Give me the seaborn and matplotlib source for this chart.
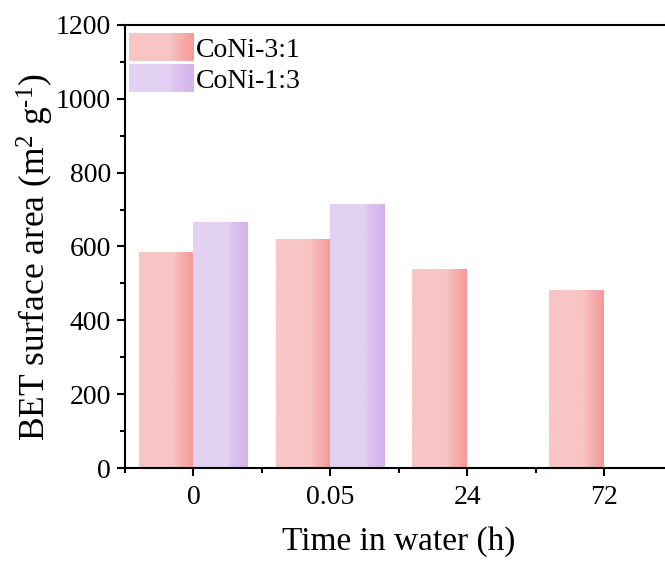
import numpy as np
import pandas as pd
import matplotlib
matplotlib.use("Agg")
import matplotlib.pyplot as plt
import seaborn as sns
from matplotlib.colors import LinearSegmentedColormap, to_rgb
from matplotlib.legend_handler import HandlerBase
from matplotlib.patches import Rectangle
from matplotlib.ticker import MultipleLocator, FixedLocator

# ---- data ----
times = ["0", "0.05", "24", "72"]
series_names = ["CoNi-3:1", "CoNi-1:3"]
coni_31 = [585, 620, 539, 480]
coni_13 = [664, 715, np.nan, np.nan]
yticks = [0, 200, 400, 600, 800, 1000, 1200]

# gradient colour stops (light body -> darker right edge)
grad_stops = {
    "CoNi-3:1": ["#F8C5C5", "#F8C5C5", "#F7B9B9", "#F49898"],
    "CoNi-1:3": ["#E3D1F3", "#E3D1F3", "#DDC5F0", "#D3B2EC"],
}
stop_pos = [0.0, 0.62, 0.70, 1.0]

df = pd.DataFrame({
    "time": times * 2,
    "value": coni_31 + coni_13,
    "sample": [series_names[0]] * len(times) + [series_names[1]] * len(times),
})

sns.set_style("ticks")
plt.rcParams["font.family"] = ["Liberation Serif", "DejaVu Serif"]
plt.rcParams["mathtext.fontset"] = "custom"
plt.rcParams["mathtext.rm"] = "Liberation Serif"
plt.rcParams["mathtext.it"] = "Liberation Serif:italic"
plt.rcParams["mathtext.bf"] = "Liberation Serif:bold"
plt.rcParams["text.color"] = "black"
plt.rcParams["axes.labelcolor"] = "black"
plt.rcParams["xtick.color"] = "black"
plt.rcParams["ytick.color"] = "black"

W, H = 665, 563
fig = plt.figure(figsize=(W / 100, H / 100), dpi=100)
ax_l, ax_r, ax_t, ax_b = 125, 672.5, 25, 468
ax = fig.add_axes([ax_l / W, 1 - ax_b / H, (ax_r - ax_l) / W, (ax_b - ax_t) / H])

palette = {n: grad_stops[n][0] for n in series_names}
sns.barplot(data=df, x="time", y="value", hue="sample", order=times,
            hue_order=series_names, palette=palette, width=0.8,
            saturation=1, ax=ax, legend=False, linewidth=0)

cmaps = {n: LinearSegmentedColormap.from_list(n, list(zip(stop_pos, [to_rgb(c) for c in grad_stops[n]])))
         for n in series_names}

# overlay gradients on bars (each container = one hue level)
for cont, name in zip(ax.containers, series_names):
    for p in cont.patches:
        h = p.get_height()
        if not np.isfinite(h) or h == 0:
            continue
        x0, w = p.get_x(), p.get_width()
        grad = cmaps[name](np.linspace(0, 1, 256))[None, :, :3]
        ax.imshow(grad, extent=[x0, x0 + w, 0, h], aspect="auto",
                  interpolation="bilinear", zorder=p.get_zorder() + 0.1)

ax.set_xlim(-0.5, 3.5)
ax.set_ylim(0, 1200)
ax.set_aspect("auto")

# spines
for s in ["left", "bottom", "top"]:
    ax.spines[s].set_linewidth(1.5)
    ax.spines[s].set_color("black")
ax.spines["right"].set_visible(False)

ax.yaxis.set_major_locator(FixedLocator(yticks))
ax.yaxis.set_minor_locator(MultipleLocator(100))
ax.xaxis.set_minor_locator(FixedLocator([-0.5, 0.5, 1.5, 2.5, 3.5]))
ax.tick_params(axis="both", which="major", direction="out", length=6, width=1.5,
               labelsize=20, pad=4, colors="black", top=False, right=False)
ax.tick_params(axis="both", which="minor", direction="out", length=3.5, width=1.5,
               top=False, right=False)
ax.tick_params(axis="x", which="major", pad=6)

ax.set_xlabel("Time in water (h)", fontsize=24, labelpad=12, color="black")
ax.set_ylabel(r"BET surface area (m$^{2}$ g$^{\text{-1}}$)", fontsize=25.5, color="black")
ax.yaxis.set_label_coords((35 - ax_l) / (ax_r - ax_l), (ax_b - 257) / (ax_b - ax_t))
ax.yaxis.label.set_va("center")

# gradient legend handles
class GradHandler(HandlerBase):
    def __init__(self, cmap):
        super().__init__()
        self.cmap = cmap

    def create_artists(self, legend, orig_handle, xdescent, ydescent, width, height, fontsize, trans):
        n = 40
        arts = []
        for i in range(n):
            c = self.cmap((i + 0.5) / n)
            r = Rectangle((-xdescent + width * i / n, -ydescent), width / n * 1.05, height,
                          facecolor=c, edgecolor="none", linewidth=0, transform=trans)
            arts.append(r)
        return arts

handles = [Rectangle((0, 0), 1, 1) for _ in series_names]
hmap = {h: GradHandler(cmaps[n]) for h, n in zip(handles, series_names)}
fig_h = 20 * 100 / 72
leg = ax.legend(handles, series_names, handler_map=hmap, loc="upper left",
                bbox_to_anchor=((129 - ax_l) / (ax_r - ax_l), (ax_b - 33) / (ax_b - ax_t)),
                frameon=False, fontsize=20, borderpad=0, borderaxespad=0,
                handlelength=65 / fig_h, handleheight=33 / fig_h, handletextpad=0.05,
                labelspacing=0.06)
for t in leg.get_texts():
    t.set_color("black")

fig.savefig("out.png", dpi=100)
